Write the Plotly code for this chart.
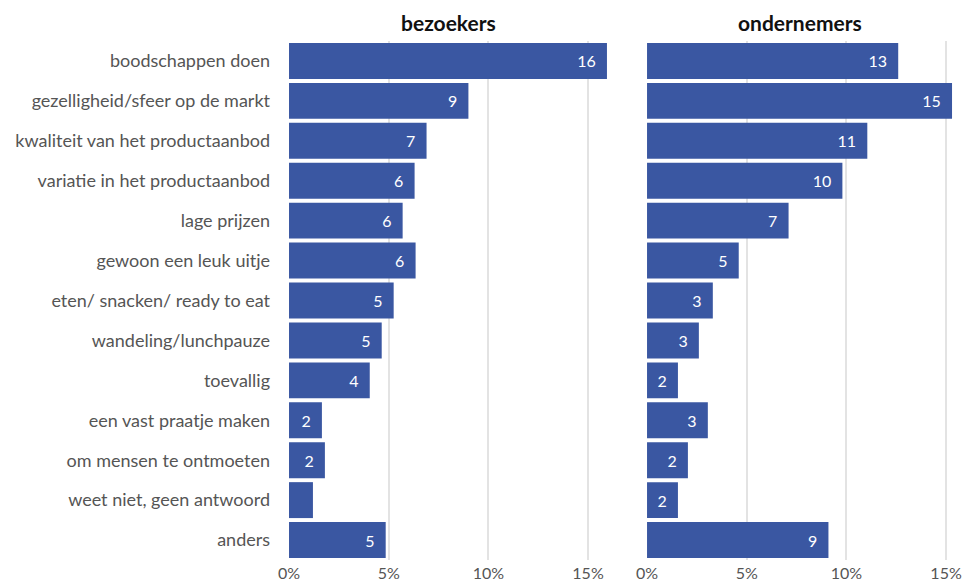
import plotly.graph_objects as go

# Reasons for visiting the market (share of respondents, %)
categories = [
    "boodschappen doen",
    "gezelligheid/sfeer op de markt",
    "kwaliteit van het productaanbod",
    "variatie in het productaanbod",
    "lage prijzen",
    "gewoon een leuk uitje",
    "eten/ snacken/ ready to eat",
    "wandeling/lunchpauze",
    "toevallig",
    "een vast praatje maken",
    "om mensen te ontmoeten",
    "weet niet, geen antwoord",
    "anders",
]
bezoekers = [15.95, 9.0, 6.9, 6.3, 5.7, 6.35, 5.25, 4.65, 4.05, 1.65, 1.8, 1.2, 4.85]
ondernemers = [12.6, 15.3, 11.05, 9.8, 7.1, 4.6, 3.3, 2.6, 1.55, 3.05, 2.05, 1.55, 9.1]
tick_vals = [0, 5, 10, 15]
tick_text = ["0%", "5%", "10%", "15%"]

BAR = "#3A57A2"
FONT = "Lato"
PAD = "\u00a0\u00a0"


def value_labels(values):
    # Rounded value inside each bar; very small bars are left unlabelled
    return [str(int(v + 0.5)) + PAD if v >= 1.5 else "" for v in values]


fig = go.Figure()
for vals, xa, ya in [(bezoekers, "x", "y"), (ondernemers, "x2", "y2")]:
    fig.add_trace(go.Bar(
        x=vals, y=categories, orientation="h",
        marker=dict(color=BAR, line=dict(width=0)),
        text=value_labels(vals), textposition="inside",
        insidetextanchor="end", textangle=0,
        textfont=dict(family=FONT, size=16, color="white"),
        cliponaxis=False,
        xaxis=xa, yaxis=ya, showlegend=False,
    ))

axis_common = dict(
    tickvals=tick_vals, ticktext=tick_text,
    showgrid=True, gridcolor="#E3E3E3", gridwidth=1.5,
    zeroline=False, showline=False, ticks="", automargin=False,
    ticklabelstandoff=2,
    tickfont=dict(family=FONT, size=16, color="#555555"),
)

fig.update_layout(
    width=965, height=581,
    margin=dict(l=0, r=0, t=41, b=21),
    paper_bgcolor="white", plot_bgcolor="white",
    bargap=0.1,
    xaxis=dict(domain=[0.2995, 0.630], range=[0, 16.0], anchor="y", **axis_common),
    xaxis2=dict(domain=[0.6705, 0.9876], range=[0, 15.35], anchor="y2", **axis_common),
    yaxis=dict(
        autorange="reversed", anchor="x", showgrid=False, ticks="",
        automargin=False, ticklabelstandoff=18,
        tickfont=dict(family=FONT, size=18, color="#555555"),
    ),
    yaxis2=dict(autorange="reversed", anchor="x2", showgrid=False,
                showticklabels=False, matches="y", automargin=False),
    annotations=[
        dict(text="<b>bezoekers</b>", x=0.5, xref="x domain", y=1.0, yref="paper",
             yanchor="bottom", yshift=4, showarrow=False,
             font=dict(family=FONT, size=21, color="#111111")),
        dict(text="<b>ondernemers</b>", x=0.5, xref="x2 domain", y=1.0, yref="paper",
             yanchor="bottom", yshift=4, showarrow=False,
             font=dict(family=FONT, size=21, color="#111111")),
    ],
)

fig.write_html("out.html")
